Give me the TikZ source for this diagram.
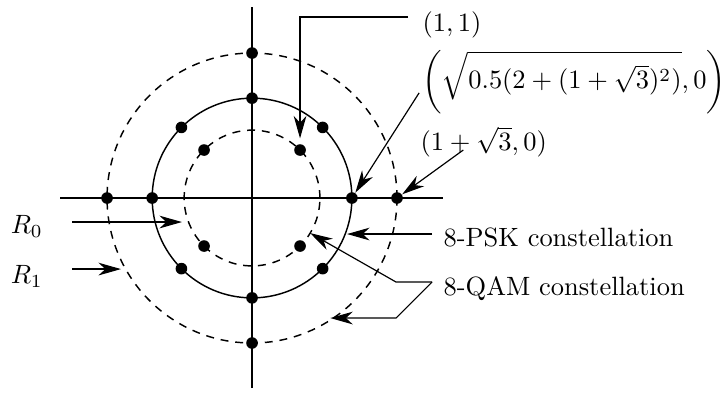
\documentclass[tikz,border=0pt]{standalone}
\usepackage{amsmath,amssymb}
\usetikzlibrary{arrows.meta,positioning,calc}

\begin{document}
\begin{tikzpicture}[x=0.638cm,y=0.638cm,>={Stealth[length=8.5pt,width=4.8pt,inset=2.6pt]},
  pt/.style={circle,fill,inner sep=0pt,minimum size=4.4pt},
  ring/.style={line width=0.55pt},
  dashring/.style={line width=0.55pt,dash pattern=on 3pt off 2.6pt},
  lead/.style={line width=0.45pt,->},
  lbl/.style={anchor=west,inner sep=0pt}]
\useasboundingbox (-5.25,-4.083) rectangle (9.81,4.125);
% axes
\draw[line width=0.8pt] (-4,0) -- (3.98,0);
\draw[line width=0.8pt] (0,-3.96) -- (0,3.98);
% the three rings
\draw[dashring] (0,0) circle (1.414);
\draw[ring] (0,0) circle (2.08);
\draw[dashring] (0,0) circle (3.02);
% constellation points
\foreach \a/\n in {45/a,135/b,225/c,315/d}
  \node[pt] (in\n) at (\a:1.414) {};
\foreach \a/\n in {0/a,45/b,90/c,135/d,180/e,225/f,270/g,315/h}
  \node[pt] (psk\n) at (\a:2.08) {};
\foreach \a/\n in {0/a,90/b,180/c,270/d}
  \node[pt] (out\n) at (\a:3.02) {};
% labels on the right
\node[lbl] (l11) at (3.54,3.6) {$(1,1)$};
\node[lbl] (lrad) at (3.54,2.41) {$\biggl(\sqrt{\rule{0pt}{11.5pt}0.5(2+(1+\sqrt{3})^2)},0\biggr)$};
\node[lbl] (lsum) at (3.5,1.17) {$(1+\sqrt{3},0)$};
\node[anchor=base west,inner sep=0pt] (tpsk) at (3.98,-1.02) {8-PSK constellation};
\node[anchor=base west,inner sep=0pt] (tqam) at (3.98,-2.02) {8-QAM constellation};
\node (r0) at (-4.69,-0.6) {$R_0$};
\node (r1) at (-4.69,-1.63) {$R_1$};
% leaders
\coordinate (k11) at (3.25,3.77);
\draw[lead,shorten >=2pt] (k11) -| (ina);
\coordinate (krad) at (3.48,2.19);
\draw[lead] (krad) -- (pska);
\coordinate (ksum) at (4.4,1.0);
\draw[lead] (ksum) -- (outa);
\coordinate (kpsk) at (3.75,-0.75);
\coordinate (kpskend) at (1.98,-0.75);
\draw[lead] (kpsk) -- (kpskend);
\coordinate (kqam) at (3.75,-1.75);
\coordinate (kqamup) at (3.0,-1.75);
\coordinate (kqamin) at (1.21,-0.73);
\coordinate (kqamdn) at (3.0,-2.5);
\coordinate (kqamout) at (1.63,-2.5);
\draw[lead] (kqam) -- (kqamup) -- (kqamin);
\draw[lead] (kqam) -- (kqamdn) -- (kqamout);
\coordinate (kr0) at (-3.75,-0.5);
\coordinate (kr0end) at (-1.46,-0.5);
\draw[lead] (kr0) -- (kr0end);
\coordinate (kr1) at (-3.75,-1.48);
\coordinate (kr1end) at (-2.73,-1.48);
\draw[lead] (kr1) -- (kr1end);
\end{tikzpicture}
\end{document}
